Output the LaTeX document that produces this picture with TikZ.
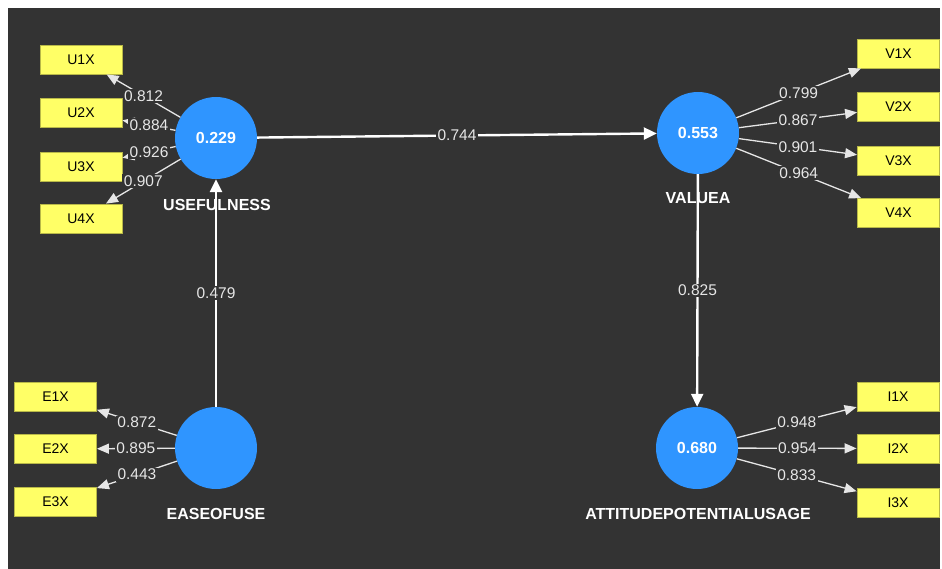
\documentclass[tikz,border=0pt]{standalone}
\usepackage{fontspec}
\setmainfont{Liberation Sans}
\usetikzlibrary{arrows.meta}
\definecolor{bg}{HTML}{333333}
\definecolor{lv}{HTML}{2F95FF}
\definecolor{ind}{HTML}{FFFF66}
\definecolor{indborder}{HTML}{B8B848}
\definecolor{lab}{HTML}{E6E6E6}
\begin{document}
\begin{tikzpicture}[x=1pt,y=-1pt,
 latent/.style={circle, fill=lv, minimum size=82pt, inner sep=0pt, text=white, font=\fontsize{16}{18}\selectfont\bfseries},
 indic/.style={rectangle, fill=ind, draw=indborder, line width=0.8pt, minimum width=82pt, minimum height=29pt, inner sep=0pt, font=\fontsize{14}{16}\selectfont, text=black},
 lvname/.style={text=white, font=\fontsize{16}{18}\selectfont\bfseries},
 meas/.style={draw=lab, line width=1.3pt, -{Triangle[length=12pt,width=10pt]}},
 struct/.style={draw=white, line width=2.4pt, -{Triangle[length=13pt,width=12pt]}},
 wlab/.style={fill=bg, inner sep=1.5pt, text=lab, font=\fontsize{15.5}{17}\selectfont},
]
\fill[white] (0,0) rectangle (942,569);
\fill[bg] (8,8) rectangle (940,569);
\useasboundingbox (0,0) rectangle (942,569);

% latent variables
\node[latent] (U) at (216,138) {0.229};
\node[latent] (V) at (698,133) {0.553};
\node[latent] (E) at (216,448) {};
\node[latent] (A) at (697,448) {0.680};

% indicators
\node[indic] (u1) at (81,59.5) {U1X};
\node[indic] (u2) at (81,112.5) {U2X};
\node[indic] (u3) at (81,166.5) {U3X};
\node[indic] (u4) at (81,218.5) {U4X};
\node[indic] (e1) at (55.5,396.5) {E1X};
\node[indic] (e2) at (55.5,449) {E2X};
\node[indic] (e3) at (55.5,502) {E3X};
\node[indic] (v1) at (898.5,53.5) {V1X};
\node[indic] (v2) at (898.5,107) {V2X};
\node[indic] (v3) at (898.5,160.5) {V3X};
\node[indic] (v4) at (898.5,213) {V4X};
\node[indic] (i1) at (898,396.5) {I1X};
\node[indic] (i2) at (898,448.5) {I2X};
\node[indic] (i3) at (898,502.5) {I3X};

% measurement edges
\draw[meas] (U) -- node[wlab] {0.812} (u1);
\draw[meas] (U) -- node[wlab] {0.884} (u2);
\draw[meas] (U) -- node[wlab] {0.926} (u3);
\draw[meas] (U) -- node[wlab] {0.907} (u4);
\draw[meas] (E) -- node[wlab] {0.872} (e1);
\draw[meas] (E) -- node[wlab] {0.895} (e2);
\draw[meas] (E) -- node[wlab] {0.443} (e3);
\draw[meas] (V) -- node[wlab] {0.799} (v1);
\draw[meas] (V) -- node[wlab] {0.867} (v2);
\draw[meas] (V) -- node[wlab] {0.901} (v3);
\draw[meas] (V) -- node[wlab] {0.964} (v4);
\draw[meas] (A) -- node[wlab] {0.948} (i1);
\draw[meas] (A) -- node[wlab] {0.954} (i2);
\draw[meas] (A) -- node[wlab] {0.833} (i3);

% structural edges
\draw[struct] (U) -- node[wlab] {0.744} (V);
\draw[struct] (E) -- node[wlab] {0.479} (U);
\draw[struct] (V) -- node[wlab] {0.825} (A);

% names
\node[lvname] (nU) at (217,205) {USEFULNESS};
\node[lvname] (nV) at (698,198) {VALUEA};
\node[lvname] (nE) at (216,514) {EASEOFUSE};
\node[lvname] (nA) at (698,514) {ATTITUDEPOTENTIALUSAGE};
\end{tikzpicture}
\end{document}
